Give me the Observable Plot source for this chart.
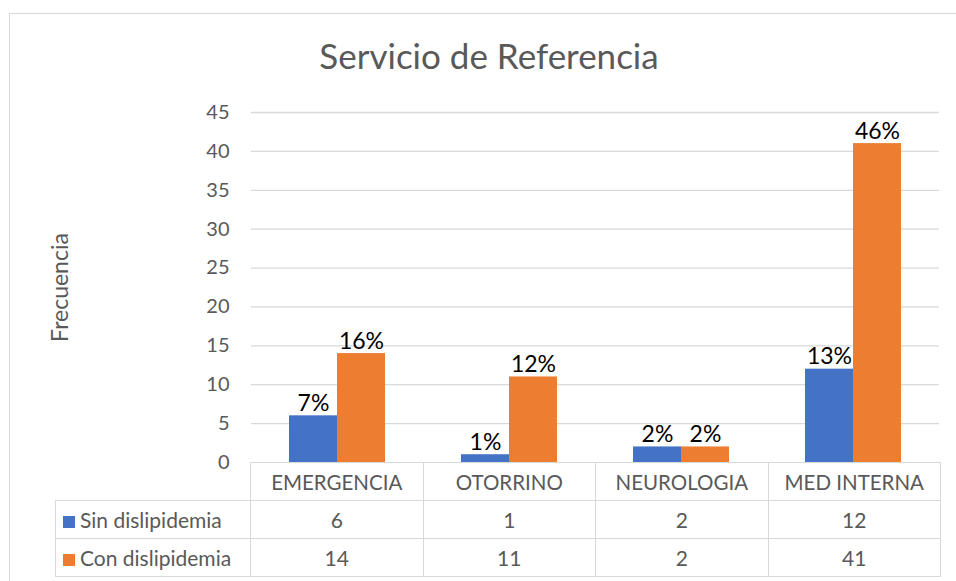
<!DOCTYPE html>
<html>
<head>
<meta charset="utf-8">
<script src="https://cdn.jsdelivr.net/npm/d3@7"></script>
<script src="https://cdn.jsdelivr.net/npm/@observablehq/plot@0.6"></script>
<style>
  html, body { margin: 0; padding: 0; background: #fff; }
  #wrap { position: relative; width: 956px; height: 581px; overflow: hidden; font-family: Lato, "Open Sans", sans-serif; }
  #border { position: absolute; left: 9px; top: 13px; width: 1000px; height: 600px; border: 1px solid #d9d9d9; box-sizing: border-box; }
  #title { position: absolute; left: 0; width: 978px; top: 34px; text-align: center; font-size: 35px; color: #595959; }
  #chart { position: absolute; left: 0; top: 0; }
  #tbl { position: absolute; left: 55px; top: 462px; border-collapse: collapse; table-layout: fixed; color: #595959; font-size: 21px; }
  #tbl td { border: 1px solid #d9d9d9; height: 37px; padding: 0; text-align: center; white-space: nowrap; }
  #tbl tr.head td { font-size: 20.5px; }
  #tbl td.blank { border: none; }
  #tbl td.name { text-align: left; padding-left: 7px; }
  .key { display: inline-block; width: 12px; height: 12px; margin-right: 5px; vertical-align: 0px; }
</style>
</head>
<body>
<div id="wrap">
  <div id="border"></div>
  <div id="title">Servicio de Referencia</div>
  <div id="chart"></div>
  <table id="tbl"></table>
</div>
<script>
const categories = ["EMERGENCIA", "OTORRINO", "NEUROLOGIA", "MED INTERNA"];
const series = ["Sin dislipidemia", "Con dislipidemia"];
const sinValues = [6, 1, 2, 12];
const conValues = [14, 11, 2, 41];
const sinLabels = ["7%", "1%", "2%", "13%"];
const conLabels = ["16%", "12%", "2%", "46%"];
const colors = ["#4472C4", "#ED7D31"];
const yTicks = [0, 5, 10, 15, 20, 25, 30, 35, 40, 45];

const valuesBySeries = [sinValues, conValues];
const labelsBySeries = [sinLabels, conLabels];
const data = [];
categories.forEach((c, i) => {
  series.forEach((s, j) => {
    data.push({cat: c, series: s, value: valuesBySeries[j][i], label: labelsBySeries[j][i]});
  });
});

const chart = Plot.plot({
  width: 956,
  height: 581,
  marginLeft: 250,
  marginRight: 16,
  marginTop: 112,
  marginBottom: 119,
  style: {fontFamily: "Lato, 'Open Sans', sans-serif", color: "#595959", background: "transparent"},
  fx: {domain: categories, padding: 0, axis: null},
  x: {domain: series, paddingInner: 0, paddingOuter: 0.76, axis: null},
  y: {domain: [0, 45], ticks: yTicks},
  color: {domain: series, range: colors},
  marks: [
    Plot.gridY(yTicks.filter(d => d > 0), {stroke: "#d9d9d9", strokeOpacity: 1, strokeWidth: 1.3}),
    Plot.axisY(yTicks, {tickSize: 0, tickPadding: 22, fontSize: 20, label: "Frecuencia", labelAnchor: "center", labelOffset: 200, labelArrow: "none"}),
    Plot.barY(data, {fx: "cat", x: "series", y: "value", fill: "series"}),
    Plot.text(data, {fx: "cat", x: "series", y: "value", text: "label", lineAnchor: "bottom", dy: -5, fontSize: 23, fill: "#000"})
  ]
});
chart.querySelectorAll("g[aria-label='y-axis label'] text, g[aria-label='y-axis label']").forEach(el => el.setAttribute("font-size", "23"));
document.getElementById("chart").appendChild(chart);

// data table below the chart
const tbl = document.getElementById("tbl");
const colg = document.createElement("colgroup");
colg.innerHTML = `<col style="width:195px">` + categories.map(() => `<col style="width:172.5px">`).join("");
tbl.appendChild(colg);
const head = document.createElement("tr");
head.className = "head";
head.innerHTML = `<td class="blank"></td>` + categories.map(c => `<td>${c}</td>`).join("");
tbl.appendChild(head);
series.forEach((s, j) => {
  const tr = document.createElement("tr");
  tr.innerHTML = `<td class="name"><span class="key" style="background:${colors[j]}"></span>${s}</td>` +
    valuesBySeries[j].map(v => `<td>${v}</td>`).join("");
  tbl.appendChild(tr);
});
</script>
</body>
</html>
